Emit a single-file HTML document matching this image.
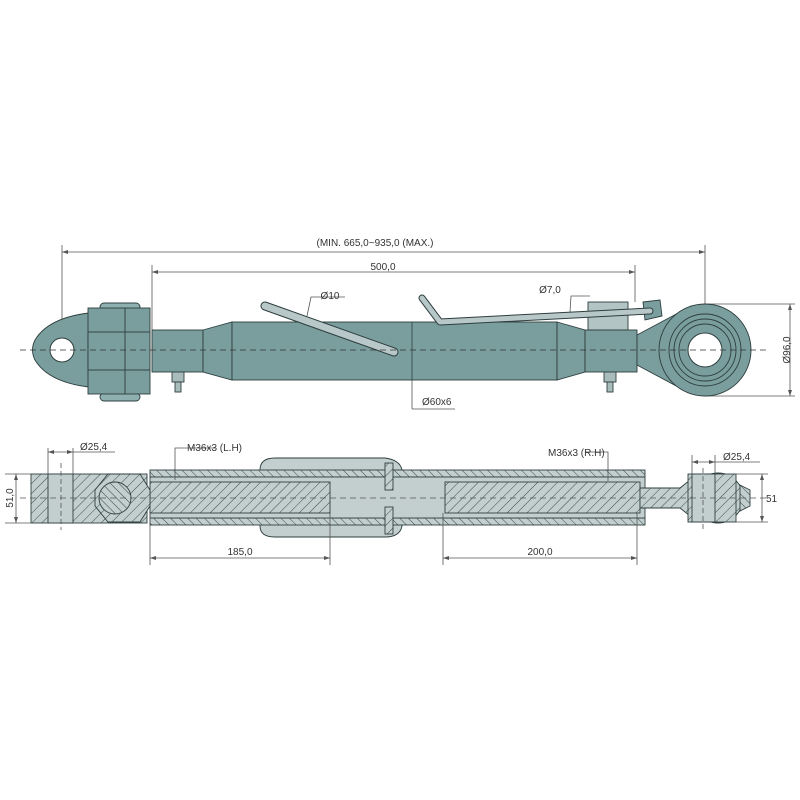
<!DOCTYPE html>
<html><head><style>body{margin:0;background:#fff}svg{display:block}text{font-family:"Liberation Sans",sans-serif;font-size:10px;fill:#333}</style></head><body>
<svg width="800" height="800" viewBox="0 0 800 800" xmlns="http://www.w3.org/2000/svg">
<defs>
<pattern id="h" width="7" height="7" patternUnits="userSpaceOnUse" patternTransform="rotate(45)"><rect width="7" height="7" fill="#c3cfcf"/><line x1="0" y1="0" x2="0" y2="7" stroke="#3c4a4a" stroke-width="1"/></pattern>
<pattern id="h2" width="6" height="6" patternUnits="userSpaceOnUse" patternTransform="rotate(-45)"><rect width="6" height="6" fill="#c3cfcf"/><line x1="0" y1="0" x2="0" y2="6" stroke="#3c4a4a" stroke-width="1"/></pattern>
</defs>
<g stroke="#555" stroke-width="0.8" fill="none">
<!-- top dimension lines -->
<line x1="62" y1="245" x2="62" y2="330"/><line x1="705" y1="245" x2="705" y2="305"/>
<line x1="62" y1="252" x2="705" y2="252"/>
<line x1="152" y1="265" x2="152" y2="330"/><line x1="635" y1="265" x2="635" y2="302"/>
<line x1="152" y1="272" x2="635" y2="272"/>
<line x1="705" y1="304" x2="795" y2="304"/><line x1="705" y1="396" x2="795" y2="396"/>
<line x1="790" y1="304" x2="790" y2="396"/>
<line x1="412" y1="380" x2="412" y2="409"/><line x1="412" y1="409" x2="455" y2="409"/>
<polyline points="307,316 311,297 345,297"/>
<polyline points="570,312 571,296 590,296"/>
</g>
<g fill="#555"><path d="M62 252l6-2v4zM705 252l-6-2v4zM152 272l6-2v4zM635 272l-6-2v4zM790 304l-2 6h4zM790 396l-2-6h4z"/></g>
<text x="375" y="246" text-anchor="middle">(MIN. 665,0~935,0 (MAX.)</text>
<text x="383" y="270" text-anchor="middle">500,0</text>
<text x="330" y="299" text-anchor="middle">Ø10</text>
<text x="550" y="293" text-anchor="middle">Ø7,0</text>
<text x="422" y="405">Ø60x6</text>
<text x="787" y="350" text-anchor="middle" transform="rotate(-90 787 350)" dy="3">Ø96,0</text>

<!-- top view body -->
<g stroke="#2e3e3e" stroke-width="0.9" fill="#7a9e9e">
<path d="M100 312 Q50 315 35 340 Q30 350 35 360 Q50 385 100 388 L100 312Z"/>
<rect x="100" y="303" width="40" height="8" rx="4" fill="#8fb0b0"/>
<rect x="100" y="393" width="40" height="8" rx="4" fill="#8fb0b0"/>
<rect x="88" y="308" width="62" height="86"/>
<rect x="88" y="332" width="62" height="38"/>
<line x1="125" y1="308" x2="125" y2="394"/>
<rect x="152" y="330" width="51" height="42"/>
<path d="M203 330 L232 322 L232 380 L203 372Z"/>
<rect x="232" y="322" width="325" height="58"/>
<path d="M557 322 L585 330 L585 372 L557 380Z"/>
<rect x="588" y="302" width="40" height="28" fill="#b3c4c4"/>
<rect x="585" y="330" width="52" height="42"/>
<path d="M637 335 L680 312 L700 308 L700 392 L680 388 L637 365Z"/>
<path d="M643 302 L660 300 L662 316 L645 320Z"/>
<circle cx="705" cy="350" r="46"/>
<circle cx="705" cy="350" r="36" fill="none"/>
<circle cx="705" cy="350" r="31" fill="none"/>
<circle cx="705" cy="350" r="26" fill="none"/>
<rect x="172" y="372" width="12" height="10" fill="#a8bcbc"/>
<rect x="175" y="382" width="6" height="10" fill="#a8bcbc"/>
<rect x="604" y="372" width="12" height="10" fill="#a8bcbc"/>
<rect x="607" y="382" width="6" height="10" fill="#a8bcbc"/>
</g>
<circle cx="62" cy="350" r="12" fill="#fff" stroke="#2e3e3e"/>
<circle cx="705" cy="350" r="17" fill="#fff" stroke="#2e3e3e"/>
<line x1="412" y1="322" x2="412" y2="380" stroke="#2e3e3e" stroke-width="0.8"/>
<!-- handles -->
<line x1="265" y1="306" x2="394" y2="352" stroke="#2e3e3e" stroke-width="9" stroke-linecap="round"/>
<line x1="265" y1="306" x2="394" y2="352" stroke="#b8c8c8" stroke-width="7" stroke-linecap="round"/>
<polyline points="422,298 440,322 650,311" fill="none" stroke="#2e3e3e" stroke-width="7" stroke-linecap="round" stroke-linejoin="round"/>
<polyline points="422,298 440,322 650,311" fill="none" stroke="#b8c8c8" stroke-width="5" stroke-linecap="round" stroke-linejoin="round"/>
<line x1="20" y1="350" x2="770" y2="350" stroke="#333" stroke-width="0.7" stroke-dasharray="6,4"/>

<!-- section view -->
<g stroke="#2e3e3e" stroke-width="0.9">
<path d="M260 470 Q260 458 275 458 L385 458 Q400 460 402 470 L402 526 Q400 537 385 537 L275 537 Q260 537 260 526Z" fill="#c3cfcf"/>
<rect x="150" y="470" width="495" height="7" fill="url(#h2)"/>
<rect x="150" y="518" width="495" height="7" fill="url(#h2)"/>
<rect x="150" y="477" width="495" height="41" fill="#c3cfcf"/>
<rect x="150" y="482" width="180" height="31" fill="url(#h)"/>
<rect x="445" y="482" width="195" height="31" fill="url(#h)"/>
<rect x="385" y="463" width="8" height="27" fill="url(#h)"/>
<rect x="385" y="507" width="8" height="27" fill="url(#h)"/>
<rect x="31" y="474" width="116" height="49" fill="url(#h)"/>
<path d="M108 474 L140 474 L150 490 L150 506 L140 522 L108 522 L95 506 L95 490Z" fill="url(#h)"/>
<circle cx="115" cy="498" r="16" fill="url(#h2)"/>
<rect x="48" y="474" width="25" height="49" fill="#c3cfcf"/>
<path d="M640 488 L680 488 L690 480 L690 516 L680 508 L640 508Z" fill="url(#h)"/>
<circle cx="718" cy="498" r="25" fill="url(#h)"/>
<path d="M740 485 L750 490 L750 506 L740 511Z" fill="url(#h2)"/>
<rect x="688" y="474" width="48" height="48" fill="url(#h)"/>
<rect x="692" y="474" width="23" height="48" fill="#c3cfcf"/>
</g>
<g stroke="#555" stroke-width="0.8" fill="none">
<line x1="20" y1="498" x2="770" y2="498" stroke-dasharray="6,4"/>
<line x1="61" y1="463" x2="61" y2="530" stroke-dasharray="5,3"/>
<line x1="703" y1="468" x2="703" y2="530" stroke-dasharray="5,3"/>
<line x1="48" y1="448" x2="48" y2="474"/><line x1="73" y1="448" x2="73" y2="474"/>
<line x1="48" y1="452" x2="115" y2="452"/>
<line x1="692" y1="455" x2="692" y2="474"/><line x1="715" y1="455" x2="715" y2="474"/>
<line x1="692" y1="462" x2="760" y2="462"/>
<line x1="5" y1="474" x2="31" y2="474"/><line x1="5" y1="523" x2="31" y2="523"/>
<line x1="16" y1="474" x2="16" y2="523"/>
<line x1="736" y1="474" x2="768" y2="474"/><line x1="736" y1="522" x2="768" y2="522"/>
<line x1="762" y1="474" x2="762" y2="522"/>
<line x1="150" y1="513" x2="150" y2="565"/><line x1="330" y1="513" x2="330" y2="565"/>
<line x1="150" y1="558" x2="330" y2="558"/>
<line x1="443" y1="513" x2="443" y2="565"/><line x1="637" y1="513" x2="637" y2="565"/>
<line x1="443" y1="558" x2="637" y2="558"/>
<polyline points="175,480 175,448 215,448"/>
<polyline points="608,481 608,452 585,452"/>
</g>
<g fill="#555"><path d="M150 558l6-2v4zM330 558l-6-2v4zM443 558l6-2v4zM637 558l-6-2v4zM16 474l-2 6h4zM16 523l-2-6h4zM762 474l-2 6h4zM762 522l-2-6h4zM48 452l6-2v4zM73 452l-6-2v4zM692 462l6-2v4zM715 462l-6-2v4z"/></g>
<text x="80" y="450">Ø25,4</text>
<text x="187" y="451">M36x3 (L.H)</text>
<text x="548" y="456">M36x3 (R.H)</text>
<text x="723" y="460">Ø25,4</text>
<text x="240" y="555" text-anchor="middle">185,0</text>
<text x="540" y="555" text-anchor="middle">200,0</text>
<text x="766" y="502">51</text>
<text x="10" y="498" text-anchor="middle" transform="rotate(-90 10 498)" dy="3">51,0</text>
</svg>
</body></html>
